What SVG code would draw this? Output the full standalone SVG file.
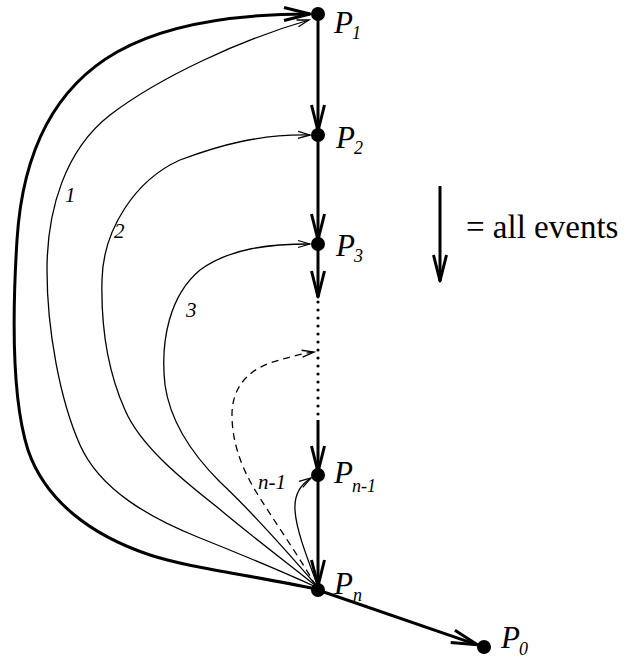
<svg xmlns="http://www.w3.org/2000/svg" width="631" height="658" viewBox="0 0 631 658">
<style>
.thick{fill:none;stroke:#000;stroke-width:3}
.thin{fill:none;stroke:#000;stroke-width:1.3}
.dash{fill:none;stroke:#000;stroke-width:1.3;stroke-dasharray:7 5}
.dot{fill:#000}
text{font-family:'Liberation Serif',serif;fill:#000}
.lbl{font-style:italic}
.P{font-size:31px}
.sub{font-size:18px}
.num{font-size:21px}
.legend{font-size:33px}
</style>
<defs>
<marker id="ah" viewBox="-30 -10 34 20" refX="0" refY="0" markerWidth="34" markerHeight="20" markerUnits="userSpaceOnUse" orient="auto">
<path d="M-26,-6.5 L0,0 L-26,6.5" fill="none" stroke="#000" stroke-width="3" stroke-linejoin="round"/>
</marker>
<marker id="at" viewBox="-16 -6 18 12" refX="0" refY="0" markerWidth="18" markerHeight="12" markerUnits="userSpaceOnUse" orient="auto">
<path d="M-12,-3.5 L0,0 L-12,3.5" fill="none" stroke="#000" stroke-width="1.3"/>
</marker>
</defs>
<g id="connectors">
<path class="thick" d="M316,589 C250,575 190,568 150,555 C90,535 45,500 28,450 C12,400 12,320 17,240 C22,160 50,90 117,52 C170,22 240,14 310,14" marker-end="url(#ah)"/>
<path class="thin" d="M316,587 C270,566 235,552 200,538 C150,518 100,490 80,445 C60,400 47,330 47,270 C47,210 65,150 110,115 C160,77 240,40 309,20" marker-end="url(#at)"/>
<path class="thin" d="M316,586 C290,565 250,535 217,507 C180,478 140,445 125,410 C105,365 101,320 102,280 C103,230 135,180 180,160 C220,145 260,134 310,135" marker-end="url(#at)"/>
<path class="thin" d="M316,585 C290,555 250,510 220,482 C190,452 170,420 165,385 C160,340 170,295 200,270 C230,248 270,244 310,244" marker-end="url(#at)"/>
<path class="dash" d="M316,586 C295,550 270,515 255,490 C240,465 232,440 232,415 C232,390 245,372 270,363 C285,358 300,354 314,352" marker-end="url(#at)"/>
<path class="thin" d="M317,584 C308,560 296,530 295,510 C294,495 300,485 311,478" marker-end="url(#at)"/>
<line class="thick" x1="318" y1="14" x2="318" y2="131" marker-end="url(#ah)"/>
<line class="thick" x1="318" y1="135" x2="318" y2="240" marker-end="url(#ah)"/>
<line class="thick" x1="318" y1="244" x2="318" y2="297" marker-end="url(#ah)"/>
<line x1="318" y1="302" x2="318" y2="418" stroke="#000" stroke-width="3.2" stroke-linecap="round" stroke-dasharray="0 8"/>
<line class="thick" x1="318" y1="420" x2="318" y2="472" marker-end="url(#ah)"/>
<line class="thick" x1="318" y1="475" x2="318" y2="586" marker-end="url(#ah)"/>
<line class="thick" x1="318" y1="590" x2="477.4" y2="644.8" marker-end="url(#ah)"/>
</g>
<g id="P1"><circle class="dot" cx="318" cy="14" r="7"/><text class="lbl P" x="334" y="33">P</text><text class="lbl sub" x="352" y="39">1</text></g>
<g id="P2"><circle class="dot" cx="318" cy="135" r="7"/><text class="lbl P" x="336" y="148">P</text><text class="lbl sub" x="354" y="154">2</text></g>
<g id="P3"><circle class="dot" cx="318" cy="244" r="7"/><text class="lbl P" x="336" y="256">P</text><text class="lbl sub" x="354" y="262">3</text></g>
<g id="Pn-1"><circle class="dot" cx="318" cy="475" r="7"/><text class="lbl P" x="334" y="483">P</text><text class="lbl sub" x="352" y="492">n-1</text></g>
<g id="Pn"><circle class="dot" cx="318" cy="590" r="7"/><text class="lbl P" x="334" y="594">P</text><text class="lbl sub" x="353" y="601">n</text></g>
<g id="P0"><circle class="dot" cx="484" cy="647" r="7"/><text class="lbl P" x="501" y="648">P</text><text class="lbl sub" x="519" y="655">0</text></g>
<g id="labels">
<text class="lbl num" x="65" y="202">1</text>
<text class="lbl num" x="114" y="238">2</text>
<text class="lbl num" x="186" y="317">3</text>
<text class="lbl num" x="258" y="489">n-1</text>
</g>
<g id="legend">
<line class="thick" x1="440" y1="186" x2="440" y2="281" marker-end="url(#ah)"/>
<text class="legend" x="466" y="238">= all events</text>
</g>
</svg>
